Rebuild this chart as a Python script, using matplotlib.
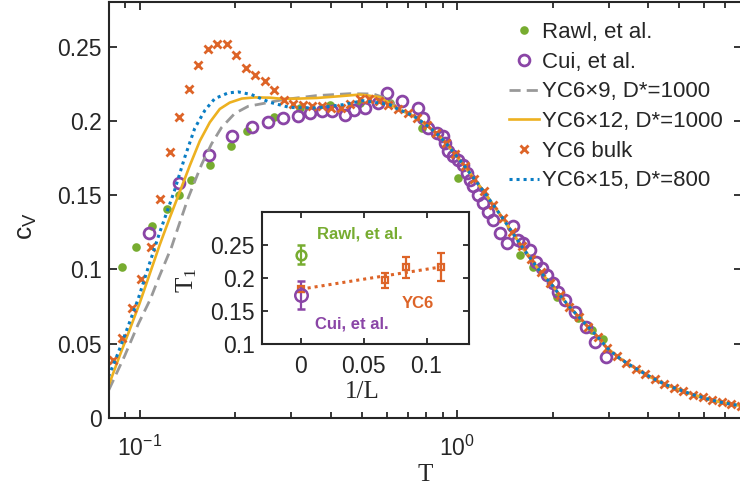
import matplotlib
matplotlib.use('Agg')
import matplotlib.pyplot as plt
from matplotlib.ticker import FixedLocator, NullFormatter

plt.rcParams['font.family'] = ['Liberation Sans', 'DejaVu Sans']
plt.rcParams['mathtext.default'] = 'regular'

# ---------------- data ----------------
# Rawl, et al. (green dots)
T_rawl = [0.0876, 0.0976, 0.1096, 0.1214, 0.1330, 0.1448, 0.1662, 0.1945, 0.2169,
          0.2645, 0.3192, 0.3970, 0.4936, 0.6137, 0.7723, 1.0073, 1.576, 1.736,
          2.057, 2.406, 2.652, 2.885]
cv_rawl = [0.1016, 0.1154, 0.1289, 0.1410, 0.1503, 0.1604, 0.1702, 0.1833, 0.1934,
           0.2025, 0.2089, 0.2109, 0.2123, 0.2123, 0.1954, 0.1615, 0.1099, 0.1019,
           0.0817, 0.0672, 0.0593, 0.0530]

# Cui, et al. (purple open circles)
T_cui = [0.1068, 0.1327, 0.1653, 0.1954, 0.2249, 0.2541, 0.2828, 0.3148, 0.3434,
         0.3738, 0.4018, 0.4426, 0.4726, 0.5118, 0.5637, 0.5989, 0.6680, 0.7535,
         0.7812, 0.8100, 0.8613, 0.9034, 0.9146, 0.9367, 0.9714, 1.0051, 1.0445,
         1.0706, 1.0965, 1.1229, 1.1619, 1.2075, 1.2495, 1.2985, 1.3633, 1.4310,
         1.5016, 1.5537, 1.6145, 1.6948, 1.7701, 1.8450, 1.9178, 1.9983, 2.0765,
         2.1846, 2.3496, 2.5446, 2.7164, 2.9425]
cv_cui = [0.1247, 0.1582, 0.1772, 0.1896, 0.1956, 0.1991, 0.2020, 0.2035, 0.2052,
          0.2064, 0.2064, 0.2042, 0.2075, 0.2087, 0.2121, 0.2188, 0.2131, 0.2087,
          0.2020, 0.1952, 0.1918, 0.1897, 0.1851, 0.1794, 0.1761, 0.1739, 0.1705,
          0.1649, 0.1604, 0.1559, 0.1503, 0.1447, 0.1388, 0.1334, 0.1245, 0.1177,
          0.1289, 0.1199, 0.1177, 0.1132, 0.1051, 0.1009, 0.0964, 0.0908, 0.0849,
          0.0795, 0.0716, 0.0615, 0.0512, 0.0411]

# YC6 bulk (orange crosses)
T_bulk = [0.0824, 0.0880, 0.0943, 0.1010, 0.1082, 0.1160, 0.1242, 0.1331, 0.1426,
          0.1528, 0.1637, 0.1754, 0.1879, 0.2013, 0.2157, 0.2311, 0.2476, 0.2653,
          0.2843, 0.3046, 0.3264, 0.3497, 0.3747, 0.4014, 0.4301, 0.4609, 0.4938,
          0.5291, 0.5669, 0.6074, 0.6508, 0.6973, 0.7472, 0.8006, 0.8578, 0.9191,
          0.9848, 1.0552, 1.1306, 1.2114, 1.2980, 1.3907, 1.4901, 1.5966, 1.7107,
          1.8329, 1.9639, 2.1043, 2.2547, 2.4158, 2.5884, 2.7734, 2.9716, 3.1839,
          3.4114, 3.6552, 3.9164, 4.1962, 4.4961, 4.8174, 5.1616, 5.5305, 5.9257,
          6.3491, 6.8028, 7.2889, 7.8098]
cv_bulk = [0.0391, 0.0541, 0.0743, 0.0937, 0.1154, 0.1476, 0.1792, 0.2026, 0.2215,
           0.2379, 0.2485, 0.2520, 0.2518, 0.2446, 0.2356, 0.2311, 0.2271, 0.2206,
           0.2143, 0.2116, 0.2109, 0.2098, 0.2098, 0.2089, 0.2085, 0.2115, 0.2145,
           0.2148, 0.2133, 0.2110, 0.2078, 0.2053, 0.2018, 0.1970, 0.1920, 0.1853,
           0.1775, 0.1695, 0.1610, 0.1525, 0.1435, 0.1345, 0.1250, 0.1155, 0.1068,
           0.0980, 0.0910, 0.0827, 0.0750, 0.0680, 0.0612, 0.0545, 0.0470, 0.0415,
           0.0372, 0.0333, 0.0295, 0.0260, 0.0228, 0.0203, 0.0180, 0.0157, 0.0138,
           0.0120, 0.0105, 0.0093, 0.0082]

# common high-temperature branch shared by the three DMRG curves
T_tail = [0.6508, 0.6973, 0.7472, 0.8006, 0.8578, 0.9191, 0.9848, 1.0552, 1.1306,
          1.2114, 1.2980, 1.3907, 1.4901, 1.5966, 1.7107, 1.8329, 1.9639, 2.1043,
          2.2547, 2.4158, 2.5884, 2.7734, 2.9716, 3.1839, 3.4114, 3.6552, 3.9164,
          4.1962, 4.4961, 4.8174, 5.1616, 5.5305, 5.9257, 6.3491, 6.8028, 7.2889,
          7.8098, 7.95]
cv_tail = [0.2078, 0.2053, 0.2018, 0.1970, 0.1920, 0.1853, 0.1775, 0.1695, 0.1610,
           0.1525, 0.1435, 0.1345, 0.1250, 0.1155, 0.1068, 0.0980, 0.0910, 0.0827,
           0.0750, 0.0680, 0.0612, 0.0545, 0.0470, 0.0415, 0.0372, 0.0333, 0.0295,
           0.0260, 0.0228, 0.0203, 0.0180, 0.0157, 0.0138, 0.0120, 0.0105, 0.0093,
           0.0082, 0.0080]

# YC6x9, D*=1000 (grey dashed), low-T part
T_yc9 = [0.0799, 0.0897, 0.0988, 0.1080, 0.1151, 0.1259, 0.1305, 0.1420, 0.1565,
         0.1683, 0.1809, 0.1992, 0.2195, 0.2507, 0.2828, 0.3605, 0.4590, 0.5436,
         0.6137]
cv_yc9 = [0.0189, 0.0420, 0.0630, 0.0800, 0.0950, 0.1150, 0.1250, 0.1480, 0.1705,
          0.1845, 0.1955, 0.2050, 0.2098, 0.2121, 0.2143, 0.2170, 0.2183, 0.2181,
          0.2143]

# YC6x12, D*=1000 (yellow solid), low-T part
T_yc12 = [0.0799, 0.0864, 0.0929, 0.1000, 0.1075, 0.1156, 0.1243, 0.1337, 0.1438,
          0.1546, 0.1662, 0.1787, 0.1921, 0.2097, 0.2303, 0.2568, 0.2823, 0.3192,
          0.3613, 0.4270, 0.4936, 0.5706]
cv_yc12 = [0.0222, 0.0418, 0.0593, 0.0775, 0.0970, 0.1166, 0.1348, 0.1523, 0.1700,
           0.1865, 0.1990, 0.2080, 0.2123, 0.2150, 0.2158, 0.2156, 0.2148, 0.2150,
           0.2154, 0.2166, 0.2177, 0.2160]

# YC6x15, D*=800 (blue dotted), low-T part
T_yc15 = [0.0797, 0.0854, 0.0918, 0.0988, 0.1062, 0.1156, 0.1289, 0.1386, 0.1490,
          0.1603, 0.1723, 0.1898, 0.2040, 0.2249, 0.2568, 0.2971, 0.3605, 0.4371,
          0.5056, 0.6137]
cv_yc15 = [0.0278, 0.0436, 0.0615, 0.0800, 0.1010, 0.1250, 0.1536, 0.1755, 0.1950,
           0.2070, 0.2150, 0.2188, 0.2195, 0.2177, 0.2125, 0.2090, 0.2087, 0.2109,
           0.2136, 0.2109]

# inset: T1 vs 1/L
invL_yc6 = [0.0, 1/15, 1/12, 1/9]
T1_yc6 = [0.1835, 0.1970, 0.2165, 0.2175]
T1_yc6_err = [0.004, 0.011, 0.0155, 0.021]
invL_fit = [0.0, 1/9]
T1_fit = [0.1835, 0.2171]
T1_rawl, T1_rawl_err = 0.236, 0.015
T1_cui, T1_cui_err = 0.175, 0.021

# ---------------- styling ----------------
green = '#77AC30'
purple = '#8A45A6'
grey = '#999999'
yellow = '#EDB120'
orange = '#DD6428'
blue = '#0A7DC4'
axcol = '#262626'

W, H = 740, 496
fig = plt.figure(figsize=(W / 100, H / 100), dpi=100)

ax = fig.add_axes([109 / W, 1 - 418 / H, (742 - 109) / W, 416 / H])
ax.plot(T_rawl, cv_rawl, 'o', color=green, ms=6.2, mec='none', label='Rawl, et al.')
ax.plot(T_cui, cv_cui, 'o', mfc='none', mec=purple, ms=7.8, mew=2.0, label='Cui, et al.')
ax.plot(T_yc9 + T_tail, cv_yc9 + cv_tail, '--', color=grey, lw=2.0, dashes=(4, 2.2),
        label='YC6×9, D*=1000')
ax.plot(T_yc12 + T_tail, cv_yc12 + cv_tail, '-', color=yellow, lw=1.9,
        label='YC6×12, D*=1000')
ax.plot(T_bulk, cv_bulk, 'x', color=orange, ms=5.5, mew=2.0, ls='none', label='YC6 bulk')
ax.plot(T_yc15 + T_tail, cv_yc15 + cv_tail, ':', color=blue, lw=2.2, dashes=(1, 1.3),
        label='YC6×15, D*=800')

ax.set_xscale('log')
ax.set_xlim(0.08, 7.89)
ax.set_ylim(0, 0.28)
ax.xaxis.set_major_locator(FixedLocator([0.1, 1]))
ax.set_xticklabels(['$10^{-1}$', '$10^{0}$'])
ax.xaxis.set_minor_locator(FixedLocator([0.08, 0.09, 0.2, 0.3, 0.4, 0.5, 0.6, 0.7, 0.8,
                                         0.9, 2, 3, 4, 5, 6, 7]))
ax.xaxis.set_minor_formatter(NullFormatter())
ax.set_yticks([0, 0.05, 0.1, 0.15, 0.2, 0.25])
ax.set_yticklabels(['0', '0.05', '0.1', '0.15', '0.2', '0.25'])
ax.tick_params(which='both', direction='in', top=True, right=True, colors=axcol,
               labelsize=16.5, width=1.3)
ax.tick_params(which='major', length=6)
ax.tick_params(which='minor', length=4)
ax.tick_params(axis='x', pad=13)
ax.tick_params(axis='y', pad=5)
for s in ax.spines.values():
    s.set_color(axcol)
    s.set_linewidth(1.5)

leg = ax.legend(loc='upper left', bbox_to_anchor=(509 / W, 1 - 22 / H),
                bbox_transform=fig.transFigure, frameon=False, fontsize=16,
                handlelength=1.35, handletextpad=0.15, labelspacing=0.39,
                borderpad=0, borderaxespad=0)
for t in leg.get_texts():
    t.set_color(axcol)

fig.text(424.7 / W, 1 - 475 / H, 'T', family='Liberation Serif', fontsize=18,
         ha='center', va='center', color=axcol)
fig.text(27 / W, 1 - 226 / H, 'c$_V$', fontsize=19, rotation=90,
         ha='center', va='center', color=axcol)

# ---------------- inset ----------------
ins = fig.add_axes([261.7 / W, 1 - 344.3 / H, 207.6 / W, 132 / H])
ins.plot(invL_fit, T1_fit, ':', color=orange, lw=2.2, dashes=(1, 1.3))
ins.errorbar(invL_yc6, T1_yc6, yerr=T1_yc6_err, fmt='s', mfc='none', mec=orange,
             ecolor=orange, ms=5, mew=1.6, elinewidth=1.6, capsize=3, capthick=1.6)
ins.errorbar([0.0], [T1_rawl], yerr=[T1_rawl_err], fmt='o', mfc='none', mec=green,
             ecolor=green, ms=7, mew=1.8, elinewidth=1.6, capsize=3, capthick=1.6)
ins.errorbar([0.0], [T1_cui], yerr=[T1_cui_err], fmt='o', mfc='none', mec=purple,
             ecolor=purple, ms=9, mew=1.8, elinewidth=1.6, capsize=3, capthick=1.6)
ins.set_xlim(-0.031, 0.134)
ins.set_ylim(0.1, 0.3)
ins.set_xticks([0, 0.05, 0.1])
ins.set_xticklabels(['0', '0.05', '0.1'])
ins.set_yticks([0.1, 0.15, 0.2, 0.25])
ins.set_yticklabels(['0.1', '0.15', '0.2', '0.25'])
ins.tick_params(direction='in', top=True, right=True, colors=axcol, labelsize=16.5,
                length=4, width=1.3)
ins.tick_params(axis='x', pad=8)
ins.tick_params(axis='y', pad=5)
for s in ins.spines.values():
    s.set_color(axcol)
    s.set_linewidth(1.5)
ins.text(0.047, 0.2669, 'Rawl, et al.', color=green, fontsize=12, fontweight='bold',
         ha='center', va='center')
ins.text(0.0931, 0.1617, 'YC6', color=orange, fontsize=12, fontweight='bold',
         ha='center', va='center')
ins.text(0.0405, 0.1302, 'Cui, et al.', color=purple, fontsize=12, fontweight='bold',
         ha='center', va='center')
fig.text(187 / W, 1 - 280 / H, 'T$_1$', family='Liberation Serif', fontsize=18,
         rotation=90, ha='center', va='center', color=axcol)
fig.text(362 / W, 1 - 392 / H, '1/L', family='Liberation Serif', fontsize=18,
         ha='center', va='center', color=axcol)

fig.savefig('out.png', dpi=100)
